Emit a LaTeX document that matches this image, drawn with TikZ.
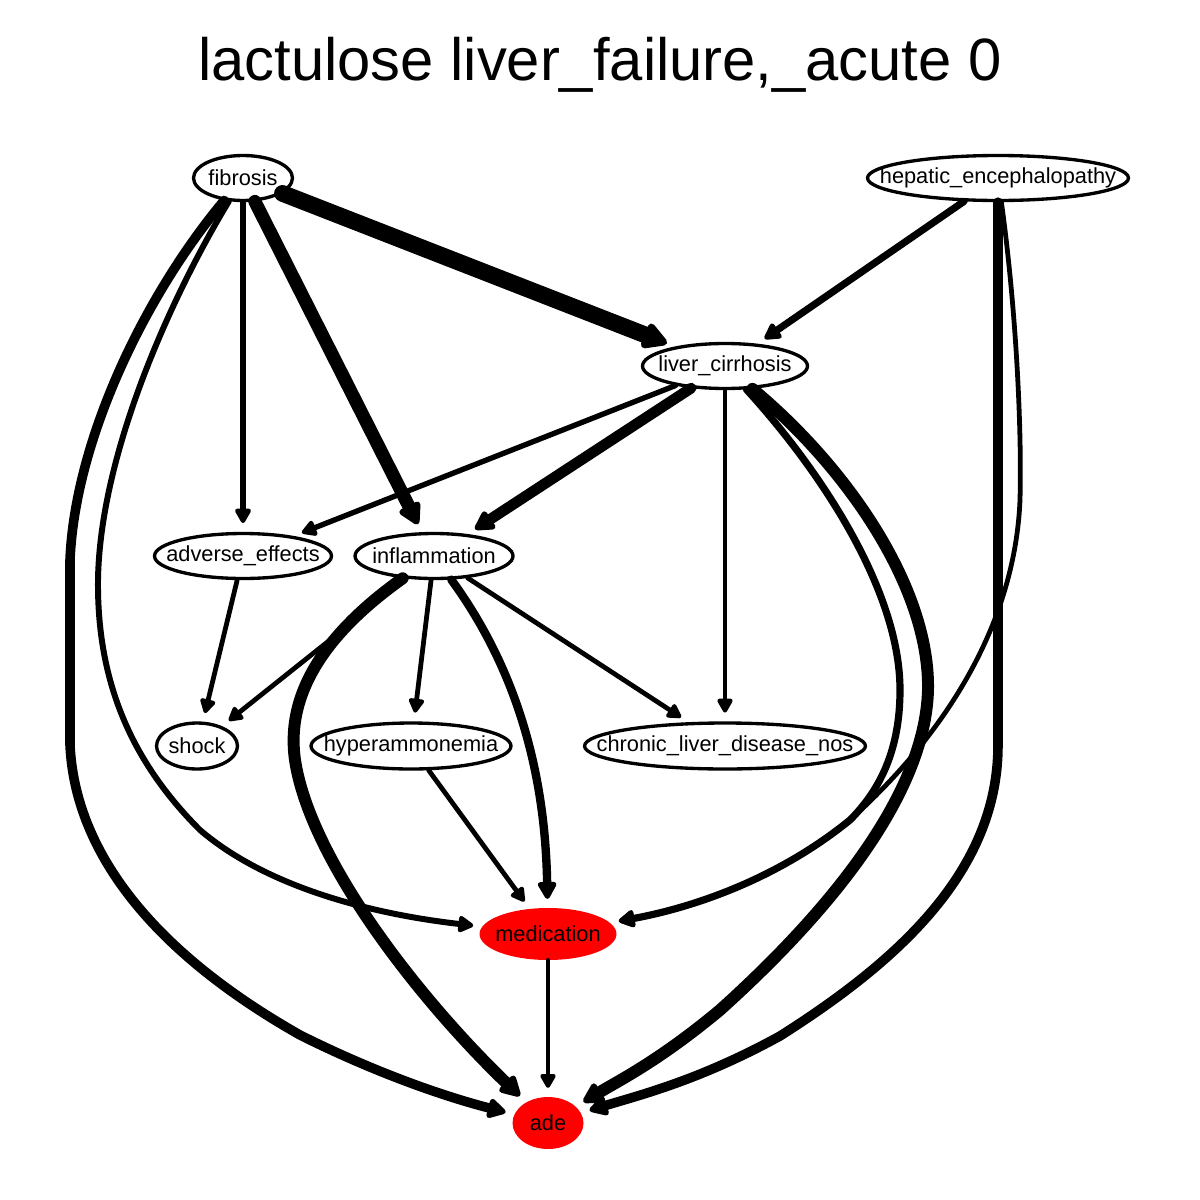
\documentclass[tikz,border=0pt]{standalone}
\usepackage{fontspec}
\setmainfont{Liberation Sans}
\usetikzlibrary{shapes.geometric,arrows.meta}
\tikzset{
  lw/.style={line width=#1*0.68pt},
  term/.style={ellipse,draw,line width=1.9pt,inner sep=0pt,minimum height=0.9cm,label=center:#1},
  hit/.style={ellipse,fill=red,inner sep=0pt,minimum height=1.04cm,label=center:#1},
  edge/.style={draw,line cap=round,line join=round,shorten >=5pt,-{Triangle[length=6.5pt 1,width=7pt 1,round]}},
  every label/.style={font=\fontsize{12.4}{14.8}\selectfont,inner sep=0pt}
}
\begin{document}
\begin{tikzpicture}[x=0.02cm,y=-0.02cm]
\fill[white] (0,0) rectangle (1200,1200);
\useasboundingbox (0,0) rectangle (1200,1200);
\node[font=\fontsize{34}{40}\selectfont,anchor=base] (title) at (600,80) {lactulose liver\_failure,\_acute 0};
\node[term=fibrosis,minimum width=1.98cm] (fibrosis) at (243,178) {};
\node[term=hepatic\_encephalopathy,minimum width=5.22cm] (hep) at (998,178) {};
\node[term=liver\_cirrhosis,minimum width=3.3cm] (liver) at (725,366) {};
\node[term=adverse\_effects,minimum width=3.54cm] (adverse) at (243,556) {};
\node[term=inflammation,minimum width=3.16cm] (infl) at (434,556) {};
\node[term=shock,minimum width=1.62cm,minimum height=0.92cm] (shock) at (197,746) {};
\node[term=hyperammonemia,minimum width=4cm,minimum height=0.92cm] (hyper) at (411,746) {};
\node[term=chronic\_liver\_disease\_nos,minimum width=5.62cm,minimum height=0.92cm] (chronic) at (725,746) {};
\node[hit=medication,minimum width=2.74cm] (med) at (548,934) {};
\node[hit=ade,minimum width=1.42cm] (ade) at (548,1123) {};
\draw[edge,lw=14] (fibrosis) -- (liver);
\draw[edge,lw=11] (fibrosis) -- (infl);
\draw[edge,lw=4.5] (fibrosis) -- (adverse);
\draw[edge,lw=8] (fibrosis) .. controls (145,295) and (75,440) .. (70,560) -- (70,745) .. controls (75,850) and (150,950) .. (300,1035) .. controls (380,1075) and (450,1098) .. (ade);
\draw[edge,lw=5] (fibrosis) .. controls (175,290) and (100,450) .. (98,580) .. controls (97,680) and (130,760) .. (200,830) .. controls (270,890) and (380,915) .. (med);
\draw[edge,lw=6] (hep) -- (liver);
\draw[edge,lw=8] (hep) -- (998,745) .. controls (998,870) and (900,960) .. (780,1036) .. controls (700,1080) and (640,1095) .. (ade);
\draw[edge,lw=4] (hep) .. controls (1015,300) and (1022,420) .. (1020,500) .. controls (1015,620) and (950,730) .. (850,820) .. controls (770,885) and (680,910) .. (med);
\draw[edge,lw=4.5] (liver) -- (adverse);
\draw[edge,lw=9] (liver) -- (infl);
\draw[edge,lw=4] (liver) -- (chronic);
\draw[edge,lw=6] (liver) .. controls (820,470) and (900,590) .. (900,690) .. controls (900,750) and (880,790) .. (850,820) .. controls (770,885) and (680,910) .. (med);
\draw[edge,lw=10] (liver) .. controls (850,470) and (930,590) .. (928,690) .. controls (925,800) and (820,920) .. (720,1010) .. controls (660,1060) and (620,1080) .. (ade);
\draw[edge,lw=10] (infl) .. controls (330,630) and (285,690) .. (295,760) .. controls (310,860) and (420,1000) .. (ade);
\draw[edge,lw=4] (infl) .. controls (370,605) .. (340,632) -- (shock);
\draw[edge,lw=4] (infl) -- (hyper);
\draw[edge,lw=7] (infl) .. controls (510,660) and (545,760) .. (med);
\draw[edge,lw=4] (infl) -- (chronic);
\draw[edge,lw=4] (adverse) -- (shock);
\draw[edge,lw=4] (hyper) -- (med);
\draw[edge,lw=4] (med) -- (ade);
\end{tikzpicture}
\end{document}
